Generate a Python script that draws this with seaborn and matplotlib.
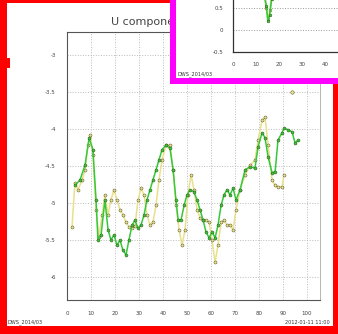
import matplotlib
matplotlib.use("Agg")
import matplotlib.pyplot as plt
from matplotlib.patches import Rectangle
import numpy as np
import pandas as pd
import seaborn as sns

# ---------------------------------------------------------------------------
# data
# ---------------------------------------------------------------------------
GREEN_X = [3.3, 5.4, 7.5, 9.2, 10.8, 12.1, 12.9, 14.2, 15.8, 17.1, 18.3, 19.6,
           20.8, 22.1, 23.3, 24.6, 25.8, 27.1, 28.3, 29.6, 30.8, 32.1, 33.3,
           34.6, 35.8, 37.1, 38.3, 39.6, 41.2, 42.9, 44.2, 45.4, 46.3, 47.5,
           48.8, 50.0, 51.3, 52.9, 54.2, 55.4, 56.7, 57.9, 59.2, 60.4, 61.7,
           62.9, 64.2, 65.4, 66.7, 67.9, 69.2, 70.4, 72.1, 74.2, 76.3, 78.3,
           79.6, 81.3, 82.5, 83.8, 85.4, 86.7, 87.9, 89.6, 90.4, 92.1, 93.8,
           95.0, 96.3]
GREEN_U = [-4.76, -4.69, -4.49, -4.12, -4.28, -4.96, -5.50, -5.43, -4.96, -5.36,
           -5.50, -5.43, -5.57, -5.50, -5.64, -5.70, -5.50, -5.30, -5.23, -5.34,
           -5.30, -5.16, -4.96, -4.82, -4.69, -4.55, -4.42, -4.28, -4.22, -4.26,
           -4.55, -4.96, -5.23, -5.23, -5.03, -4.89, -4.82, -4.85, -4.96, -5.09,
           -5.23, -5.39, -5.47, -5.39, -5.47, -5.30, -5.03, -4.89, -4.82, -4.89,
           -4.80, -4.96, -4.82, -4.55, -4.51, -4.53, -4.24, -4.05, -4.12, -4.38,
           -4.59, -4.58, -4.15, -4.05, -3.99, -4.01, -4.04, -4.19, -4.15]

YELLOW_X = [2.1, 3.3, 4.6, 6.3, 7.5, 8.8, 9.6, 10.8, 12.1, 13.3, 14.6, 15.8,
            17.1, 18.3, 19.6, 20.8, 22.1, 23.3, 24.6, 25.8, 27.1, 28.3, 29.6,
            30.8, 32.1, 33.3, 34.6, 35.8, 37.1, 38.3, 39.6, 41.2, 42.9, 44.2,
            45.4, 46.7, 47.9, 49.2, 50.4, 51.7, 52.9, 54.2, 55.4, 56.7, 57.9,
            59.2, 60.4, 61.7, 62.9, 64.2, 65.4, 66.7, 67.9, 69.2, 70.4, 72.1,
            74.2, 76.3, 78.3, 79.6, 81.3, 82.5, 83.8, 85.4, 86.7, 87.9, 89.6,
            90.4]
YELLOW_U = [-5.32, -4.73, -4.82, -4.69, -4.55, -4.22, -4.08, -4.35, -5.09, -5.46,
            -5.16, -4.89, -5.16, -4.96, -4.82, -4.96, -5.09, -5.16, -5.26, -5.32,
            -5.34, -5.31, -4.96, -4.80, -4.89, -5.16, -5.30, -5.26, -5.03, -4.69,
            -4.42, -4.22, -4.22, -4.55, -5.03, -5.36, -5.57, -5.36, -4.89, -4.62,
            -4.82, -5.09, -5.20, -5.23, -5.23, -5.26, -5.50, -5.80, -5.57, -5.26,
            -5.23, -5.30, -5.30, -5.36, -5.09, -4.82, -4.62, -4.49, -4.42, -4.15,
            -3.88, -3.84, -4.22, -4.69, -4.76, -4.78, -4.78, -4.62]
YELLOW_LONE_X = [93.8]
YELLOW_LONE_U = [-3.50]

INSET_X = [12.5, 13.5, 14.5, 15.2, 16.0, 16.8, 17.5]
INSET_GREEN = [1.10, 0.85, 0.55, 0.20, 0.35, 0.70, 1.05]
INSET_YELLOW = [1.05, 0.80, 0.50, 0.25, 0.45, 0.75, 1.10]

X_TICKS = list(range(0, 101, 10))
Y_TICKS = [-3.0, -3.5, -4.0, -4.5, -5.0, -5.5, -6.0]
INSET_X_TICKS = [0, 10, 20, 30, 40]
INSET_Y_TICKS = [-0.5, 0.0, 0.5]

TITLE = "U component of wind at 10 m"
LEFT_NOTE = "DWS_2014/03"
RIGHT_NOTE = "2012-01-11 11:00"
INSET_NOTE = "DWS_2014/03"

GREEN = "#35c93a"
YELLOW = "#e9e08c"
MARK = "#3a3a10"

W, H = 338, 334


def px(x0, y0, x1, y1):
    """pixel box (top-left origin) -> figure fraction rect"""
    return [x0 / W, 1 - y1 / H, (x1 - x0) / W, (y1 - y0) / H]


def fmt(v):
    return f"{v:g}"


def add_box(fig, box, color, z):
    r = px(*box)
    fig.patches.append(Rectangle(r[:2], r[2], r[3], transform=fig.transFigure,
                                 facecolor=color, edgecolor="none", zorder=z))


sns.set_style("white")
plt.rcParams["font.family"] = ["DejaVu Sans"]

fig = plt.figure(figsize=(W / 100, H / 100), dpi=100)
fig.patch.set_facecolor("white")

# ---------------------------------------------------------------------------
# main axes
# ---------------------------------------------------------------------------
ax = fig.add_axes(px(67, 32, 320, 300))
df = pd.concat([
    pd.DataFrame({"x": GREEN_X, "u": GREEN_U, "s": "green"}),
    pd.DataFrame({"x": YELLOW_X, "u": YELLOW_U, "s": "yellow"}),
])
sns.lineplot(data=df, x="x", y="u", hue="s", hue_order=["yellow", "green"],
             palette={"green": GREEN, "yellow": YELLOW}, estimator=None,
             marker="o", markersize=2.2, markeredgecolor=MARK, markeredgewidth=0.3,
             linewidth=1.1, legend=False, ax=ax)
sns.scatterplot(x=YELLOW_LONE_X, y=YELLOW_LONE_U, color=YELLOW, s=6,
                edgecolor=MARK, linewidth=0.3, ax=ax)

ax.set_xlim(0, 105.4)
ax.set_ylim(-6.31, -2.69)
ax.set_xticks(X_TICKS)
ax.set_xticklabels([str(t) for t in X_TICKS])
ax.set_yticks(Y_TICKS)
ax.set_yticklabels([fmt(t) for t in Y_TICKS])
ax.set_xlabel("")
ax.set_ylabel("")
ax.tick_params(labelsize=4, length=2, width=0.5, colors="#444444", pad=6)
ax.grid(True, linestyle=":", color="#bbbbbb", linewidth=0.7)
for side in ["left", "bottom", "top"]:
    ax.spines[side].set_color("#555555")
    ax.spines[side].set_linewidth(0.8)
ax.spines["right"].set_color("#aaaaaa")
ax.spines["right"].set_linewidth(0.6)
ax.set_title(TITLE, fontsize=8, color="#444444", pad=5)

fig.text(8 / W, 1 - 322 / H, LEFT_NOTE, fontsize=3.6, color="#333333", va="center")
fig.text(330 / W, 1 - 322 / H, RIGHT_NOTE, fontsize=3.6, color="#333333",
         va="center", ha="right")

# red frame
for box in [(0, 0, 7, H), (0, 0, 170, 3), (333, 84, W, H), (0, 326, W, H),
            (0, 58, 10, 68)]:
    add_box(fig, box, "#ff0000", 10)

# ---------------------------------------------------------------------------
# inset (magenta box, top right)
# ---------------------------------------------------------------------------
add_box(fig, (170, 0, W, 84), "white", 5)
for box in [(170, 0, 176, 84), (170, 78, W, 84)]:
    add_box(fig, box, "#ff00ff", 8)

ins = fig.add_axes(px(233, -20, 380, 52))
ins.set_zorder(6)
ins.patch.set_alpha(0)
idf = pd.concat([
    pd.DataFrame({"x": INSET_X, "u": INSET_YELLOW, "s": "yellow"}),
    pd.DataFrame({"x": INSET_X, "u": INSET_GREEN, "s": "green"}),
])
sns.lineplot(data=idf, x="x", y="u", hue="s", hue_order=["yellow", "green"],
             palette={"green": GREEN, "yellow": YELLOW}, estimator=None,
             marker="o", markersize=2, markeredgecolor=MARK, markeredgewidth=0.3,
             linewidth=1.2, legend=False, ax=ins)
ins.set_xlim(0, 64)
ins.set_ylim(-0.5, 1.14)
ins.set_xticks(INSET_X_TICKS)
ins.set_xticklabels([str(t) for t in INSET_X_TICKS])
ins.set_yticks(INSET_Y_TICKS)
ins.set_yticklabels([fmt(t) for t in INSET_Y_TICKS])
ins.set_xlabel("")
ins.set_ylabel("")
ins.tick_params(labelsize=4, length=2, width=0.5, colors="#444444", pad=5)
ins.grid(True, axis="y", linestyle=":", color="#999999", linewidth=0.7)
for side in ["left", "bottom"]:
    ins.spines[side].set_color("#333333")
    ins.spines[side].set_linewidth(0.9)
ins.spines["top"].set_visible(False)
ins.spines["right"].set_visible(False)

fig.text(178 / W, 1 - 74 / H, INSET_NOTE, fontsize=3.6, color="#333333",
         va="center", zorder=9)

fig.savefig("out.png", dpi=100)
plt.close(fig)
